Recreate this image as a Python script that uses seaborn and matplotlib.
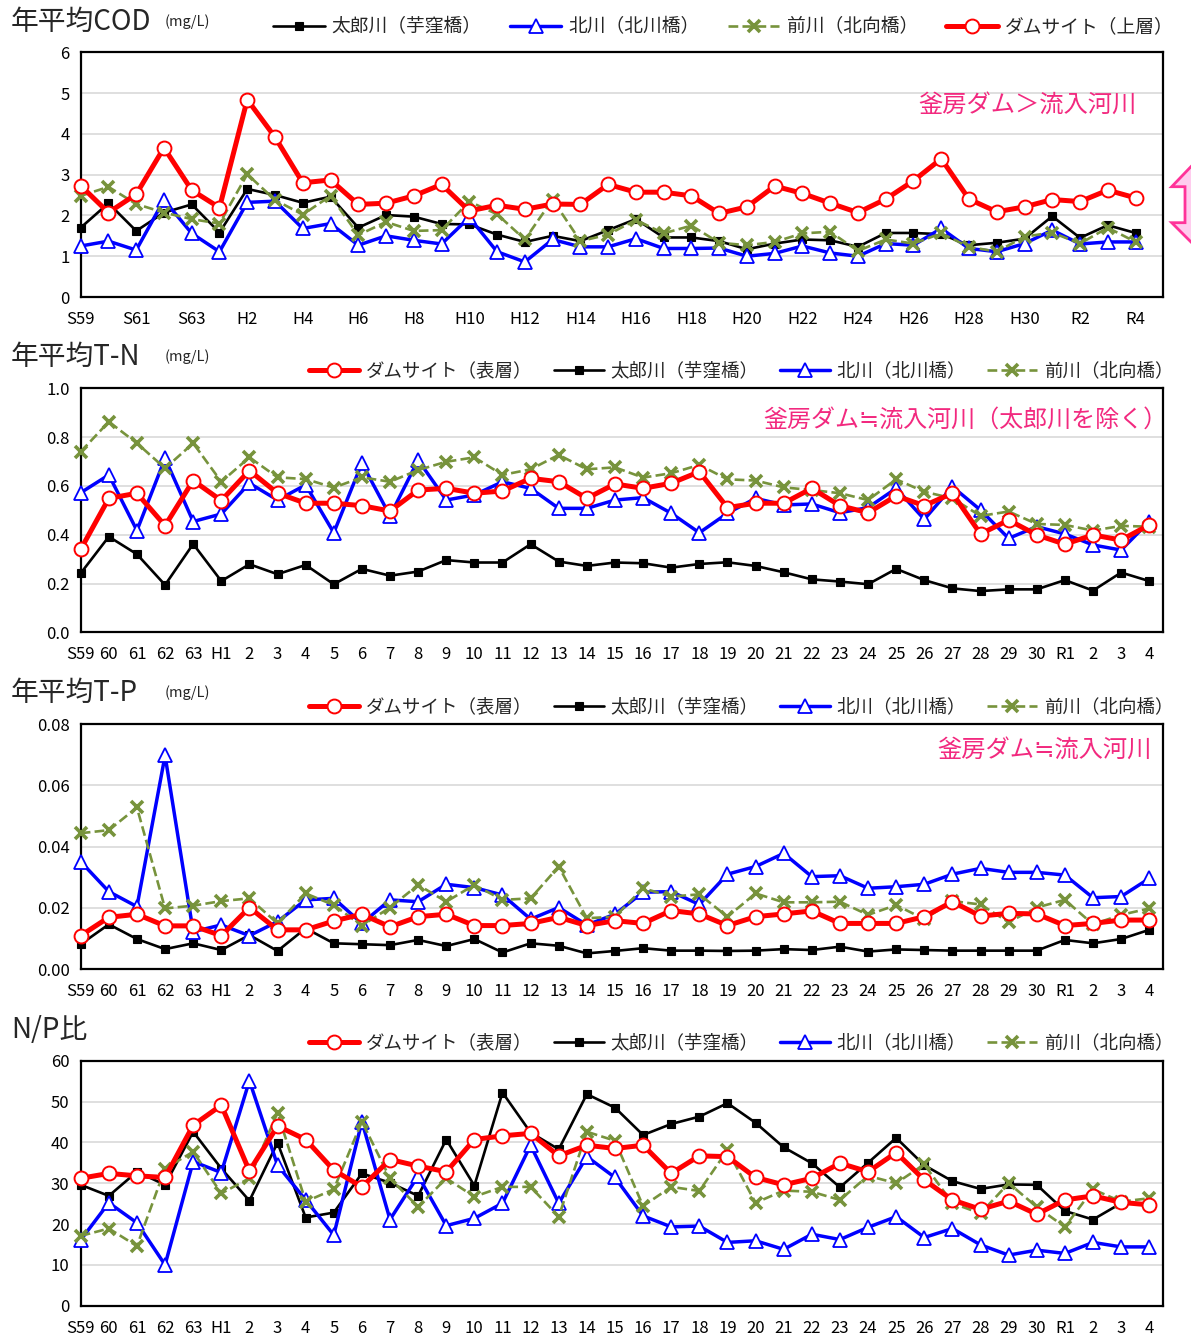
import matplotlib
matplotlib.use("Agg")
import matplotlib.pyplot as plt
import seaborn as sns
import numpy as np
import pandas as pd
from matplotlib.lines import Line2D
from matplotlib.patches import Polygon
from matplotlib.ticker import FormatStrFormatter

sns.set_style("white")
plt.rcParams['font.family'] = ['Noto Sans CJK JP', 'DejaVu Sans']

# ---------------- data ----------------
cod_labels = ['S59', '', 'S61', '', 'S63', '', 'H2', '', 'H4', '', 'H6', '', 'H8', '',
              'H10', '', 'H12', '', 'H14', '', 'H16', '', 'H18', '', 'H20', '', 'H22', '',
              'H24', '', 'H26', '', 'H28', '', 'H30', '', 'R2', '', 'R4']
year_labels = ['S59', '60', '61', '62', '63', 'H1', '2', '3', '4', '5', '6', '7', '8', '9',
               '10', '11', '12', '13', '14', '15', '16', '17', '18', '19', '20', '21', '22',
               '23', '24', '25', '26', '27', '28', '29', '30', 'R1', '2', '3', '4']

cod_taro = [1.70, 2.30, 1.62, 2.07, 2.27, 1.58, 2.65, 2.50, 2.31, 2.46, 1.70, 2.01, 1.97,
            1.79, 1.78, 1.53, 1.35, 1.50, 1.37, 1.64, 1.91, 1.46, 1.46, 1.37, 1.17, 1.31,
            1.41, 1.39, 1.23, 1.57, 1.57, 1.54, 1.27, 1.33, 1.43, 1.98, 1.45, 1.76, 1.57]
cod_kita = [1.25, 1.37, 1.15, 2.38, 1.56, 1.11, 2.32, 2.35, 1.68, 1.80, 1.27, 1.50, 1.39,
            1.30, 1.95, 1.11, 0.86, 1.41, 1.23, 1.23, 1.43, 1.19, 1.19, 1.20, 1.00, 1.07,
            1.25, 1.08, 1.00, 1.31, 1.27, 1.68, 1.19, 1.11, 1.31, 1.64, 1.30, 1.35, 1.35]
cod_mae = [2.48, 2.70, 2.28, 2.07, 1.91, 1.80, 3.01, 2.38, 2.02, 2.48, 1.52, 1.84, 1.62,
           1.64, 2.34, 2.03, 1.41, 2.39, 1.37, 1.53, 1.89, 1.56, 1.75, 1.33, 1.27, 1.35,
           1.56, 1.60, 1.13, 1.41, 1.31, 1.56, 1.23, 1.11, 1.48, 1.58, 1.31, 1.70, 1.35]
cod_dam = [2.73, 2.07, 2.52, 3.66, 2.62, 2.19, 4.84, 3.92, 2.80, 2.87, 2.27, 2.30, 2.48,
           2.76, 2.11, 2.25, 2.15, 2.28, 2.27, 2.76, 2.57, 2.57, 2.48, 2.05, 2.21, 2.72,
           2.54, 2.30, 2.07, 2.40, 2.85, 3.39, 2.40, 2.09, 2.21, 2.39, 2.34, 2.62, 2.43]

tn_dam = [0.340, 0.549, 0.570, 0.437, 0.622, 0.540, 0.663, 0.570, 0.529, 0.529, 0.519, 0.497,
          0.583, 0.590, 0.570, 0.579, 0.631, 0.617, 0.549, 0.608, 0.590, 0.611, 0.658, 0.511,
          0.529, 0.529, 0.590, 0.519, 0.490, 0.559, 0.519, 0.570, 0.403, 0.460, 0.399, 0.361,
          0.399, 0.378, 0.440]
tn_taro = [0.242, 0.392, 0.320, 0.194, 0.362, 0.210, 0.279, 0.238, 0.276, 0.197, 0.260, 0.232,
           0.249, 0.296, 0.286, 0.286, 0.361, 0.290, 0.272, 0.286, 0.283, 0.265, 0.280, 0.287,
           0.272, 0.246, 0.217, 0.208, 0.197, 0.260, 0.214, 0.180, 0.169, 0.176, 0.176, 0.214,
           0.171, 0.245, 0.210]
tn_kita = [0.572, 0.645, 0.417, 0.713, 0.454, 0.485, 0.611, 0.542, 0.604, 0.408, 0.693, 0.477,
           0.706, 0.542, 0.563, 0.617, 0.590, 0.508, 0.508, 0.542, 0.552, 0.488, 0.408, 0.488,
           0.549, 0.522, 0.526, 0.490, 0.511, 0.590, 0.463, 0.597, 0.501, 0.385, 0.433, 0.403,
           0.358, 0.337, 0.454]
tn_mae = [0.740, 0.863, 0.775, 0.672, 0.775, 0.617, 0.717, 0.635, 0.628, 0.593, 0.635, 0.617,
          0.665, 0.699, 0.717, 0.645, 0.668, 0.727, 0.668, 0.676, 0.634, 0.652, 0.686, 0.627,
          0.622, 0.594, 0.583, 0.570, 0.542, 0.627, 0.576, 0.549, 0.477, 0.495, 0.444, 0.440,
          0.417, 0.436, 0.433]

tp_dam = [0.0109, 0.0169, 0.0179, 0.0141, 0.0141, 0.0109, 0.0201, 0.0128, 0.0128, 0.0157,
          0.0179, 0.0138, 0.0171, 0.0179, 0.0142, 0.0142, 0.0149, 0.0169, 0.0142, 0.0158,
          0.0149, 0.0191, 0.0180, 0.0142, 0.0171, 0.0180, 0.0190, 0.0149, 0.0149, 0.0149,
          0.0171, 0.0220, 0.0173, 0.0182, 0.0180, 0.0142, 0.0149, 0.0160, 0.0160]
tp_taro = [0.0081, 0.0146, 0.0098, 0.0065, 0.0084, 0.0062, 0.0111, 0.0059, 0.0133, 0.0084,
           0.0081, 0.0078, 0.0095, 0.0075, 0.0098, 0.0054, 0.0084, 0.0076, 0.0051, 0.0059,
           0.0068, 0.0060, 0.0060, 0.0059, 0.0060, 0.0065, 0.0062, 0.0073, 0.0057, 0.0064,
           0.0062, 0.0060, 0.0060, 0.0060, 0.0060, 0.0095, 0.0084, 0.0098, 0.0128]
tp_kita = [0.0351, 0.0253, 0.0204, 0.0698, 0.0122, 0.0144, 0.0109, 0.0155, 0.0226, 0.0231,
           0.0149, 0.0226, 0.0220, 0.0277, 0.0266, 0.0242, 0.0163, 0.0201, 0.0144, 0.0179,
           0.0251, 0.0253, 0.0211, 0.0310, 0.0335, 0.0378, 0.0302, 0.0305, 0.0264, 0.0269,
           0.0277, 0.0310, 0.0329, 0.0316, 0.0316, 0.0307, 0.0233, 0.0237, 0.0296]
tp_mae = [0.0444, 0.0454, 0.0528, 0.0198, 0.0207, 0.0222, 0.0231, 0.0149, 0.0247, 0.0209,
          0.0142, 0.0201, 0.0275, 0.0220, 0.0275, 0.0226, 0.0231, 0.0335, 0.0166, 0.0171,
          0.0264, 0.0237, 0.0244, 0.0171, 0.0247, 0.0218, 0.0218, 0.0220, 0.0177, 0.0209,
          0.0163, 0.0222, 0.0211, 0.0153, 0.0201, 0.0226, 0.0146, 0.0177, 0.0198]

np_dam = [31.2, 32.4, 31.8, 31.4, 44.2, 49.1, 33.0, 44.0, 40.7, 33.2, 29.1, 35.8, 34.2,
          32.8, 40.7, 41.6, 42.2, 36.7, 39.3, 38.5, 39.3, 32.4, 36.7, 36.5, 31.4, 29.6,
          31.2, 34.9, 32.8, 37.5, 30.8, 25.9, 23.6, 25.6, 22.4, 25.9, 26.9, 25.3, 24.7]
np_taro = [29.6, 26.9, 32.8, 29.6, 42.6, 33.6, 25.7, 39.9, 21.6, 22.8, 32.4, 30.1, 26.9,
           40.7, 29.4, 52.2, 42.4, 38.3, 51.8, 48.5, 41.8, 44.5, 46.3, 49.6, 44.8, 38.8,
           34.9, 29.0, 35.0, 41.1, 34.4, 30.5, 28.6, 29.7, 29.6, 23.2, 21.1, 25.1, 24.9]
np_kita = [16.1, 25.2, 20.3, 10.0, 35.3, 32.6, 55.1, 34.4, 25.9, 17.3, 45.1, 21.1, 31.8,
           19.6, 21.4, 25.1, 39.3, 25.1, 36.5, 31.4, 22.0, 19.3, 19.5, 15.5, 15.9, 13.8,
           17.5, 16.2, 19.2, 21.8, 16.7, 18.9, 14.9, 12.4, 13.6, 12.8, 15.5, 14.4, 14.4]
np_mae = [17.1, 18.9, 14.6, 33.6, 37.7, 27.5, 31.2, 47.3, 25.5, 28.5, 45.1, 31.2, 24.2,
          31.2, 26.7, 29.1, 29.1, 21.8, 42.6, 40.4, 24.4, 29.1, 28.1, 38.1, 25.2, 28.2,
          27.9, 25.9, 31.8, 30.0, 34.6, 25.1, 22.6, 30.0, 24.2, 19.3, 28.5, 25.5, 26.3]

name_taro = '太郎川（芋窪橋）'
name_kita = '北川（北川橋）'
name_mae = '前川（北向橋）'
name_dam_top = 'ダムサイト（上層）'
name_dam_surf = 'ダムサイト（表層）'

# ---------------- styles ----------------
RED = '#FF0000'
BLUE = '#0000FF'
GREEN = '#77933C'
PINK = '#F2297F'

sty = {
    'taro': dict(color='black', linewidth=1.9, marker='s', markersize=6.2,
                 markerfacecolor='black', markeredgecolor='black', markeredgewidth=0.8),
    'kita': dict(color=BLUE, linewidth=2.5, marker='^', markersize=9.5,
                 markerfacecolor='white', markeredgecolor=BLUE, markeredgewidth=1.3),
    'mae': dict(color=GREEN, linewidth=1.9, linestyle='--', marker='x', markersize=8,
                markerfacecolor=GREEN, markeredgecolor=GREEN, markeredgewidth=2.6),
    'dam': dict(color=RED, linewidth=3.6, marker='o', markersize=10,
                markerfacecolor='white', markeredgecolor=RED, markeredgewidth=1.4),
}
zord = {'taro': 3, 'kita': 4, 'mae': 5, 'dam': 6}

W, H = 1191, 1336
fig = plt.figure(figsize=(W / 100, H / 100), dpi=100)


def fx(px):
    return px / W


def fy(py):
    return 1 - py / H


def make_ax(top_px, bottom_px):
    left, right = 80.7, 1163.3
    return fig.add_axes([fx(left), fy(bottom_px), fx(right) - fx(left),
                         (bottom_px - top_px) / H])


def style_ax(ax, ylim, yticks, fmt, xlabels, xmax, every):
    ax.set_xlim(0, xmax)
    ax.set_ylim(*ylim)
    ax.set_yticks(yticks)
    ax.yaxis.set_major_formatter(FormatStrFormatter(fmt))
    ticks = list(range(0, len(xlabels), every))
    ax.set_xticks(ticks)
    ax.set_xticklabels([xlabels[i] for i in ticks])
    ax.grid(axis='y', color='#D9D9D9', linewidth=1.2)
    ax.grid(axis='x', visible=False)
    ax.set_axisbelow(True)
    for s in ax.spines.values():
        s.set_visible(True)
        s.set_color('black')
        s.set_linewidth(1.6)
    ax.tick_params(axis='both', direction='out', length=5, width=1.4,
                   labelsize=12, colors='black', pad=3)
    ax.tick_params(axis='x', pad=5)
    ax.set_xlabel('')
    ax.set_ylabel('')


def draw(ax, series):
    x = np.arange(len(series[0][1]))
    for key, vals in series:
        df = pd.DataFrame({'x': x, 'y': vals})
        sns.lineplot(data=df, x='x', y='y', ax=ax, clip_on=False, zorder=zord[key],
                     **sty[key])


def legend(ax, keys, names, x_px, y_px, spacing, hlen, fs=13.5):
    handles = [Line2D([], [], **sty[k]) for k in keys]
    ax.legend(handles, names, ncol=4, loc='center left',
              bbox_to_anchor=(fx(x_px), fy(y_px)), bbox_transform=fig.transFigure,
              frameon=False, fontsize=fs, handlelength=hlen, handletextpad=0.38,
              columnspacing=spacing, borderaxespad=0, borderpad=0)


def title(text, y_px, unit=True):
    fig.text(fx(11), fy(y_px), text, fontsize=20, va='center', ha='left')
    if unit:
        fig.text(fx(165), fy(y_px), '(mg/L)', fontsize=10.5, va='center', ha='left')


# ---------------- panel 1: COD ----------------
ax1 = make_ax(52.3, 297)
draw(ax1, [('taro', cod_taro), ('kita', cod_kita), ('mae', cod_mae), ('dam', cod_dam)])
style_ax(ax1, (0, 6), [0, 1, 2, 3, 4, 5, 6], '%d', cod_labels, 39, 2)
legend(ax1, ['taro', 'kita', 'mae', 'dam'], [name_taro, name_kita, name_mae, name_dam_top],
       273, 27, 1.5, 2.75)
title('年平均COD', 22)
fig.text(fx(1137), fy(105), '釜房ダム＞流入河川', color=PINK, fontsize=17.5,
         ha='right', va='center')

# ---------------- panel 2: T-N ----------------
ax2 = make_ax(388.3, 632.3)
draw(ax2, [('taro', tn_taro), ('kita', tn_kita), ('mae', tn_mae), ('dam', tn_dam)])
style_ax(ax2, (0, 1.0), [0, 0.2, 0.4, 0.6, 0.8, 1.0], '%.1f', year_labels, 38.5, 1)
legend(ax2, ['dam', 'taro', 'kita', 'mae'], [name_dam_surf, name_taro, name_kita, name_mae],
       309, 371, 1.15, 2.7, 13.3)
title('年平均T-N', 357)
fig.text(fx(1168), fy(420), '釜房ダム≒流入河川（太郎川を除く）', color=PINK, fontsize=17.3,
         ha='right', va='center')

# ---------------- panel 3: T-P ----------------
ax3 = make_ax(724.3, 969)
draw(ax3, [('taro', tp_taro), ('kita', tp_kita), ('mae', tp_mae), ('dam', tp_dam)])
style_ax(ax3, (0, 0.08), [0, 0.02, 0.04, 0.06, 0.08], '%.2f', year_labels, 38.5, 1)
legend(ax3, ['dam', 'taro', 'kita', 'mae'], [name_dam_surf, name_taro, name_kita, name_mae],
       309, 707, 1.15, 2.7, 13.3)
title('年平均T-P', 693)
fig.text(fx(1152), fy(750), '釜房ダム≒流入河川', color=PINK, fontsize=17.5,
         ha='right', va='center')

# ---------------- panel 4: N/P ----------------
ax4 = make_ax(1060.7, 1305.7)
draw(ax4, [('taro', np_taro), ('kita', np_kita), ('mae', np_mae), ('dam', np_dam)])
style_ax(ax4, (0, 60), [0, 10, 20, 30, 40, 50, 60], '%d', year_labels, 38.5, 1)
legend(ax4, ['dam', 'taro', 'kita', 'mae'], [name_dam_surf, name_taro, name_kita, name_mae],
       309, 1043, 1.15, 2.7, 13.3)
title('N/P比', 1030, unit=False)

# ---------------- pink double arrow at right edge ----------------
pts_px = [(1205, 152), (1238.3, 186.7), (1225, 186.7), (1225, 222.7), (1238.3, 222.7),
          (1205, 256), (1171.7, 222.7), (1185, 222.7), (1185, 186.7), (1171.7, 186.7)]
arrow = Polygon([(fx(a), fy(b)) for a, b in pts_px], closed=True,
                transform=fig.transFigure, facecolor='#FFCCEE', edgecolor='#FF3399',
                linewidth=2)
fig.add_artist(arrow)

fig.savefig('out.png', dpi=100)
